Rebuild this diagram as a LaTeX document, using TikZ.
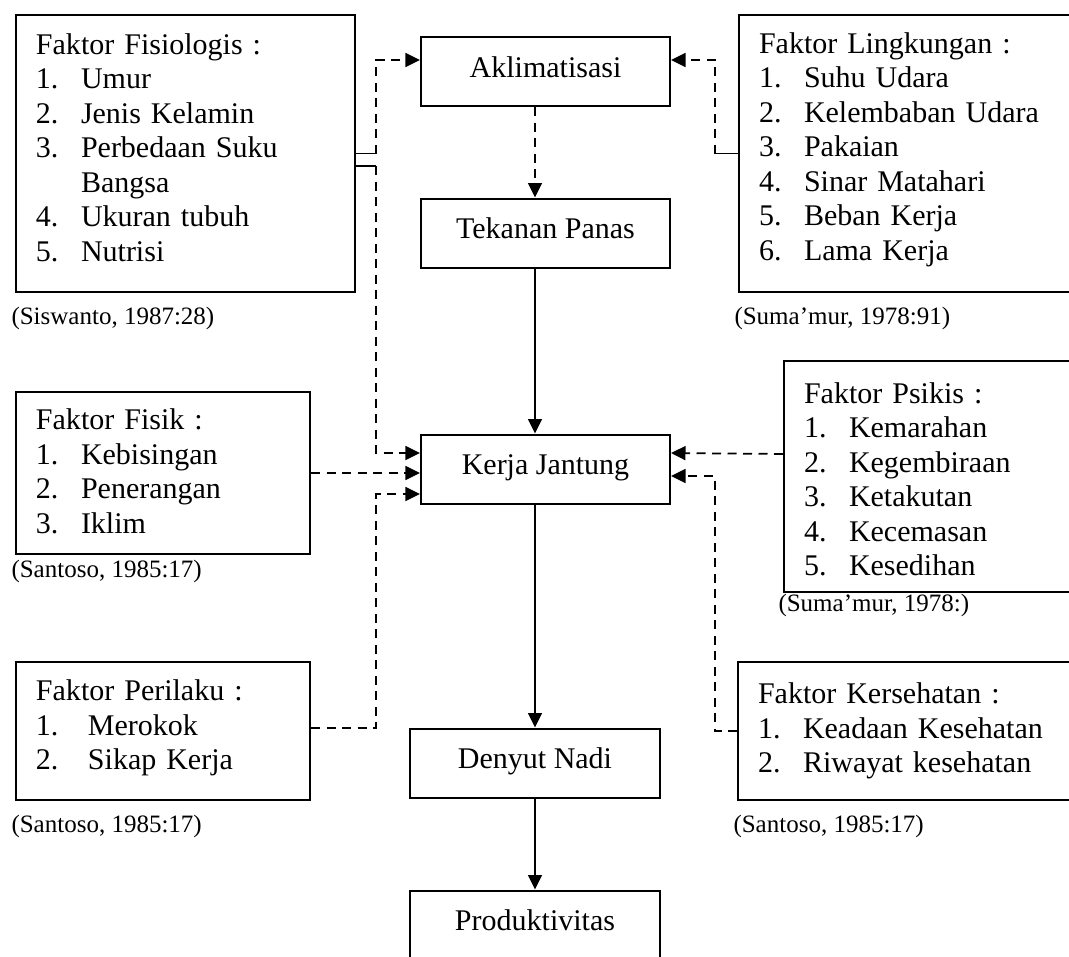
\documentclass[tikz,border=0pt]{standalone}
\usepackage{fontspec}
\setmainfont{Liberation Serif}
\usetikzlibrary{positioning,arrows.meta}

\newcommand{\butir}[3][18pt]{\makebox[#1][l]{#2}#3}

\tikzset{
  pusat/.style={draw, line width=0.8pt, minimum width=99.6pt, minimum height=27.6pt, inner sep=0pt,
                text height=8.3pt, text depth=3.6pt},
  faktor/.style={draw, line width=0.8pt, anchor=north west, align=left, inner xsep=8pt, inner ysep=0pt},
  sumber/.style={anchor=west, inner sep=0pt, font=\fontsize{10}{12}\selectfont},
  garis/.style={line width=0.7pt},
  putus/.style={line width=0.7pt, dash pattern=on 3.6pt off 2.6pt},
  panah/.style={line width=0.7pt, -{Triangle[length=5.8pt,width=5.6pt]}},
}

\begin{document}
\begin{tikzpicture}[x=0.4pt, y=-0.4pt, font=\fontsize{12}{13.8}\selectfont]
    \path[use as bounding box] (0,0) rectangle (1069,956);
    \clip (0,0) rectangle (1069,956);

    % alur tengah
    \node[pusat] (akli) at (545.5,71.5) {Aklimatisasi};
    \node[pusat] (tekanan) at (545.5,233) {Tekanan Panas};
    \node[pusat] (kerja) at (545.5,469) {Kerja Jantung};
    \node[pusat] (denyut) at (535,763) {Denyut Nadi};
    \node[pusat] (produk) at (535,925) {Produktivitas};

    % faktor kiri
    \node[faktor, text width=119.6pt, minimum height=110.8pt] (fisio) at (15,14)
        {Faktor Fisiologis :\\ \butir{1.}{Umur}\\ \butir{2.}{Jenis Kelamin}\\
         \butir{3.}{Perbedaan Suku}\\ \butir{}{Bangsa}\\ \butir{4.}{Ukuran tubuh}\\ \butir{5.}{Nutrisi}\rule[-4.8pt]{0pt}{0pt}};
    \node[faktor, text width=101.6pt, minimum height=64.8pt] (fisik) at (15,391)
        {Faktor Fisik :\\ \butir{1.}{Kebisingan}\\ \butir{2.}{Penerangan}\\ \butir{3.}{Iklim}\rule[-1.6pt]{0pt}{0pt}};
    \node[faktor, text width=101.6pt, minimum height=55.2pt] (perilaku) at (15,661)
        {Faktor Perilaku :\\ \butir[20.8pt]{1.}{Merokok}\\ \butir[20.8pt]{2.}{Sikap Kerja}\rule[-5pt]{0pt}{0pt}};

    % faktor kanan
    \node[faktor, text width=130pt, minimum height=110.8pt] (lingk) at (738,14)
        {Faktor Lingkungan :\\ \butir{1.}{Suhu Udara}\\ \butir{2.}{Kelembaban Udara}\\ \butir{3.}{Pakaian}\\
         \butir{4.}{Sinar Matahari}\\ \butir{5.}{Beban Kerja}\\ \butir{6.}{Lama Kerja}\rule[-5.8pt]{0pt}{0pt}};
    \node[faktor, text width=130pt, minimum height=92.4pt] (psikis) at (783,360)
        {\rule{0pt}{10.6pt}Faktor Psikis :\\ \butir{1.}{Kemarahan}\\ \butir{2.}{Kegembiraan}\\ \butir{3.}{Ketakutan}\\
         \butir{4.}{Kecemasan}\\ \butir{5.}{Kesedihan}};
    \node[faktor, text width=130pt, minimum height=55.2pt] (sehat) at (737,661)
        {Faktor Kersehatan :\\ \butir{1.}{Keadaan Kesehatan}\\ \butir{2.}{Riwayat kesehatan}};

    % sumber
    \node[sumber] (sumber1) at (11,318) {(Siswanto, 1987:28)};
    \node[sumber] (sumber2) at (734,318) {(Suma’mur, 1978:91)};
    \node[sumber] (sumber3) at (11,571) {(Santoso, 1985:17)};
    \node[sumber] (sumber4) at (778,605) {(Suma’mur, 1978:)};
    \node[sumber] (sumber5) at (11,826) {(Santoso, 1985:17)};
    \node[sumber] (sumber6) at (733,826) {(Santoso, 1985:17)};

    \coordinate (relkiri) at (376,0);
    \coordinate (relkanan) at (715,0);

    % panah tengah
    \draw[putus, panah] (akli.south -| denyut) -- (tekanan.north -| denyut);
    \draw[panah] (tekanan.south -| denyut) -- (kerja.north -| denyut);
    \draw[panah] (kerja.south -| denyut) -- (denyut.north);
    \draw[panah] (denyut.south) -- (produk.north);

    % sisi kiri
    \draw[garis] (fisio.east) -- (fisio.east -| relkiri) coordinate (f1);
    \draw[garis] ([yshift=-5pt]fisio.east) -- ([yshift=-5pt]fisio.east -| relkiri) coordinate (f2);
    \draw[putus, panah] (f1) |- ([yshift=4.6pt]akli.west);
    \draw[putus, panah] (f2) |- ([yshift=6.4pt]kerja.west);
    \draw[putus, panah] (fisik.east) -- (fisik.east -| kerja.west);
    \draw[putus, panah] ([yshift=1.2pt]perilaku.east) -- ([yshift=1.2pt]perilaku.east -| relkiri) |- ([yshift=-10pt]kerja.west);

    % sisi kanan
    \draw[garis] (lingk.west) -- (lingk.west -| relkanan) coordinate (l1);
    \draw[putus, panah] (l1) |- ([yshift=4.6pt]akli.east);
    \draw[putus, panah] ([yshift=9pt]psikis.west) -- ([yshift=6.4pt]kerja.east);
    \draw[putus, panah] (sehat.west) -- (sehat.west -| relkanan) |- ([yshift=-2.8pt]kerja.east);
\end{tikzpicture}
\end{document}
